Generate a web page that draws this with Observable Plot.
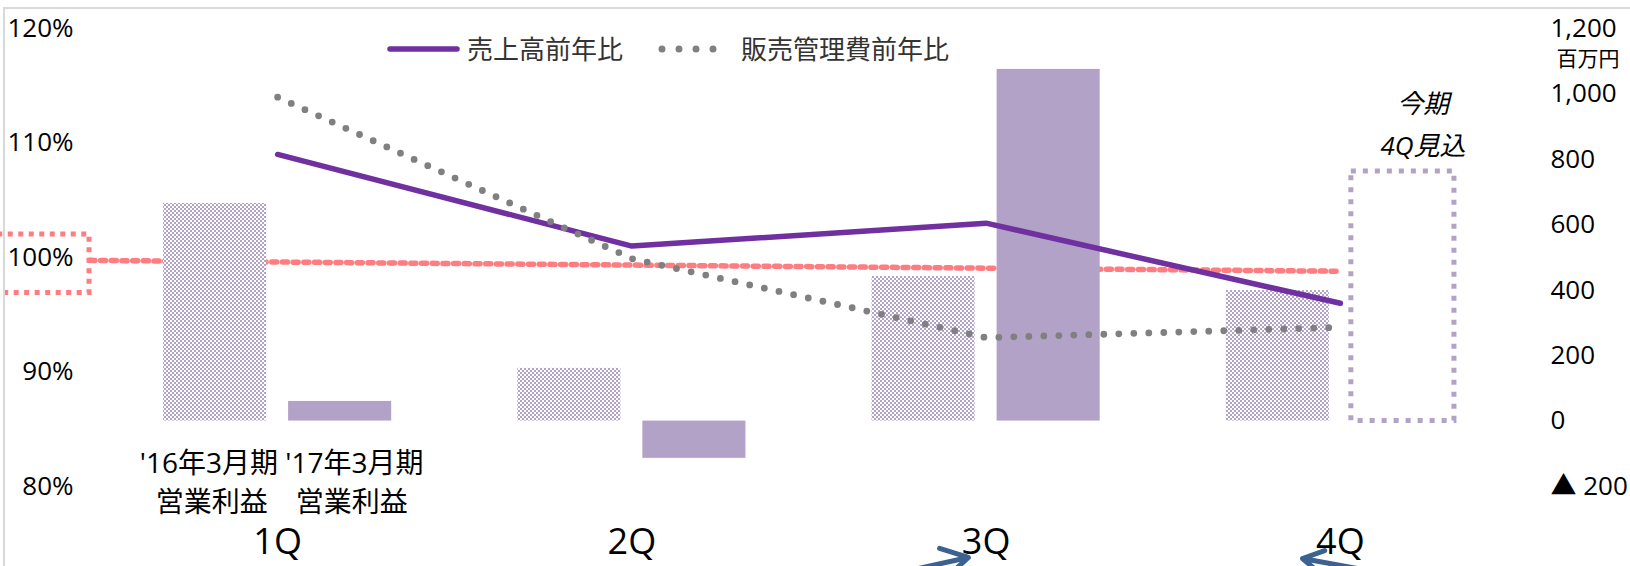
<!DOCTYPE html>
<html><head><meta charset="utf-8">
<script src="https://cdn.jsdelivr.net/npm/d3@7"></script>
<script src="https://cdn.jsdelivr.net/npm/@observablehq/plot@0.6"></script>
<style>
body{margin:0;background:#fff;overflow:hidden}
#wrap{position:relative;width:1630px;height:566px;overflow:hidden;font-family:"Open Sans","Noto Sans CJK JP",sans-serif}
#border{position:absolute;left:3px;top:7px;width:1700px;height:700px;border-top:2px solid #d9d9d9;border-left:2px solid #d9d9d9;pointer-events:none}
.lg{position:absolute;font-size:26px;color:#333;line-height:30px;white-space:nowrap}
.sw{position:absolute}
</style></head>
<body>
<div id="wrap">
  <div id="chart"></div>
  <div id="border"></div>
  <svg class="sw" style="left:386px;top:44px" width="76" height="10"><line x1="4" x2="71" y1="5" y2="5" stroke="#7030a0" stroke-width="5.5" stroke-linecap="round"/></svg>
  <div class="lg" id="lg1" style="left:467px;top:34px"></div>
  <svg class="sw" style="left:656px;top:43px" width="82" height="12"><line x1="6" x2="74" y1="6" y2="6" stroke="#808080" stroke-width="7" stroke-linecap="round" stroke-dasharray="0 17"/></svg>
  <div class="lg" id="lg2" style="left:741px;top:34px"></div>
</div>
<script>
// ---- data ----
const quarters = ["1Q", "2Q", "3Q", "4Q"];
const seriesNames = ["売上高前年比", "販売管理費前年比"];
const salesYoY = [109.0, 101.0, 103.0, 96.0];          // %
const sgaYoY = [114.0, 99.9, 93.0, 93.9];              // %
const opProfitPrev = [665, 161, 442, 399];             // '16年3月期 営業利益 (百万円)
const opProfitCur = [60, -114, 1075, null];            // '17年3月期 営業利益 (百万円)
const forecast4Q = [763];                              // 今期4Q見込 (百万円)
const barLabel = "'16年3月期 '17年3月期\n営業利益　営業利益";
const forecastLabel = "今期\n4Q見込";
const unitLabel = "百万円";
const leftTicks = [80, 90, 100, 110, 120];
const leftTickLabels = ["80%", "90%", "100%", "110%", "120%"];
const rightTicks = [-200, 0, 200, 400, 600, 800, 1000, 1200];
const rightTickLabels = ["▲ 200", "0", "200", "400", "600", "800", "1,000", "1,200"];
// annotation shapes (x in quarter units, y in %)
const refLineX = [-0.53, 3.0];
const refLineY = [99.75, 98.8];
const refBoxX = [-0.79, -0.531];
const refBoxY = [96.9, 102.0];
const arrowX1 = [1.70, 3.09], arrowY1 = [72.1, 72.6];
const arrowX2 = [1.95, 2.893], arrowY2 = [73.8, 73.71];

document.getElementById("lg1").textContent = seriesNames[0];
document.getElementById("lg2").textContent = seriesNames[1];

// right axis (百万円) mapped onto the shared vertical scale
const toY = v => 80 + (v + 200) / 35;
const fromY = p => Math.round((p - 80) * 35 - 200);

const purple = "#7030a0", lav = "#b3a2c7", pink = "#ff7c80", gray = "#808080";
const salesData = quarters.map((q, i) => ({i, v: salesYoY[i]}));
const sgaData = quarters.map((q, i) => ({i, v: sgaYoY[i]}));
const prevData = quarters.map((q, i) => ({i, v: opProfitPrev[i]}));
const curData = quarters.map((q, i) => ({i, v: opProfitCur[i]})).filter(d => d.v != null);
const fcData = forecast4Q.map(v => ({i: 3, v}));
const refLine = refLineX.map((x, k) => ({x, y: refLineY[k]}));
const refBox = [{x1: refBoxX[0], x2: refBoxX[1], y1: refBoxY[0], y2: refBoxY[1]}];
const arrows = arrowX1.map((x, k) => ({x1: x, y1: arrowY1[k], x2: arrowX2[k], y2: arrowY2[k]}));

const chart = Plot.plot({
  width: 1630, height: 566,
  marginTop: 28, marginBottom: 80, marginLeft: 100, marginRight: 113,
  x: {type: "linear", domain: [-0.5, 3.5], axis: null},
  y: {domain: [80, 120], axis: null},
  style: {fontFamily: '"Open Sans","Noto Sans CJK JP",sans-serif', color: "#000", background: "transparent", fontSize: "26px"},
  marks: [
    Plot.line(refLine, {x: "x", y: "y", stroke: pink, strokeWidth: 5.5, strokeDasharray: "5 5.7"}),
    Plot.rect(refBox, {x1: "x1", x2: "x2", y1: "y1", y2: "y2", fill: "none", stroke: pink, strokeWidth: 5, strokeDasharray: "5 5.5"}),
    Plot.rectY(prevData, {x1: d => d.i - 0.322, x2: d => d.i - 0.031, y1: () => toY(0), y2: d => toY(d.v), fill: "url(#checker)"}),
    Plot.rectY(curData, {x1: d => d.i + 0.031, x2: d => d.i + 0.322, y1: () => toY(0), y2: d => toY(d.v), fill: lav}),
    Plot.rectY(fcData, {x1: d => d.i + 0.031, x2: d => d.i + 0.322, y1: () => toY(0), y2: d => toY(d.v), fill: "none", stroke: lav, strokeWidth: 5, strokeDasharray: "5 7"}),
    Plot.line(salesData, {x: "i", y: "v", stroke: purple, strokeWidth: 5.5, strokeLinecap: "round", strokeLinejoin: "miter"}),
    Plot.line(sgaData, {x: "i", y: "v", stroke: gray, strokeWidth: 6.8, strokeLinecap: "round", strokeDasharray: "0 15"}),
    Plot.axisY({anchor: "left", ticks: leftTicks, tickFormat: d => leftTickLabels[leftTicks.indexOf(d)], tickSize: 0, tickPadding: 27, label: null, fontSize: 26}),
    Plot.axisY({anchor: "right", ticks: rightTicks.map(toY), tickFormat: d => rightTickLabels[rightTicks.indexOf(fromY(d))], tickSize: 0, tickPadding: 33, label: null, fontSize: 26}),
    Plot.axisX({ticks: [0, 1, 2, 3], tickFormat: d => quarters[d], tickSize: 0, tickPadding: 42, label: null, fontSize: 36}),
    Plot.text([barLabel], {x: () => 0, frameAnchor: "bottom", text: d => d, dx: 4, dy: -6.5, lineAnchor: "middle", lineHeight: 1.4, fontSize: 28}),
    Plot.text(fcData, {x: d => d.i + 0.177, y: d => toY(d.v), text: () => forecastLabel, dx: 20, dy: -16, lineAnchor: "bottom", lineHeight: 1.62, fontSize: 26, fontStyle: "italic"}),
    Plot.text([unitLabel], {frameAnchor: "top-right", text: d => d, dx: 39, dy: 31, textAnchor: "start", lineAnchor: "middle", fontSize: 21}),
    Plot.arrow(arrows, {x1: "x1", y1: "y1", x2: "x2", y2: "y2", stroke: "#3c6291", strokeWidth: 5, headLength: 10})
  ]
});

const svg = d3.select(chart);
const defs = svg.insert("defs", ":first-child");
const pat = defs.append("pattern").attr("id", "checker").attr("width", 4).attr("height", 4).attr("patternUnits", "userSpaceOnUse");
pat.append("rect").attr("width", 4).attr("height", 4).attr("fill", "#fff");
pat.append("rect").attr("width", 2).attr("height", 2).attr("fill", lav);
pat.append("rect").attr("x", 2).attr("y", 2).attr("width", 2).attr("height", 2).attr("fill", lav);
document.getElementById("chart").appendChild(chart);
</script>
</body></html>
